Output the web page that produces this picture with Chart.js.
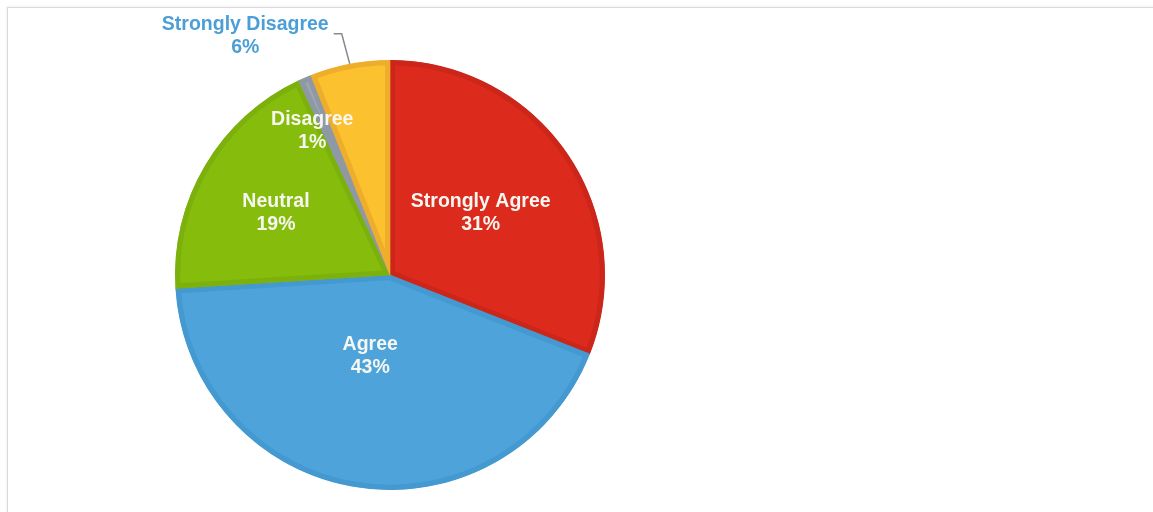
<!DOCTYPE html>
<html>
<head>
<meta charset="utf-8">
<script src="https://cdn.jsdelivr.net/npm/chart.js@4/dist/chart.umd.min.js"></script>
<style>
  html, body { margin: 0; padding: 0; background: #fff; overflow: hidden; }
  #frame {
    position: absolute; left: 7px; top: 7px; width: 1200px; height: 560px;
    border-top: 1px solid #dadada; border-left: 1px solid #dadada;
    box-shadow: -1px -1px 2px rgba(0,0,0,0.05);
  }
  #wrap { position: absolute; left: 0; top: 0; width: 1153px; height: 512px; }
</style>
</head>
<body>
<div id="frame"></div>
<div id="wrap"><canvas id="pieChart"></canvas></div>
<script>
// answers, clockwise from 12 o'clock
const answers = ['Strongly Agree', 'Agree', 'Neutral', 'Disagree', 'Strongly Disagree'];
const percents = [31, 43, 19, 1, 6];

const fills = ['#dc2a1c', '#4da3da', '#86bc0c', '#9ba6b2', '#fcc12f'];
const rims = ['#cc261b', '#4399d0', '#7cb10d', '#8f99a5', '#eeae2b'];

// draws the two-line labels on each slice (no datalabels plugin offline)
const sliceLabels = {
  id: 'sliceLabels',
  afterDatasetsDraw(chart, args, opts) {
    const ctx = chart.ctx;
    const meta = chart.getDatasetMeta(0);
    ctx.save();
    ctx.font = 'bold 19.5px "Liberation Sans", Arial, sans-serif';
    ctx.textBaseline = 'middle';
    meta.data.forEach((arc, i) => {
      const p = arc.getProps(['x', 'y', 'startAngle', 'endAngle', 'outerRadius'], true);
      const mid = (p.startAngle + p.endAngle) / 2;
      const place = opts.place[i];
      const txt = [answers[i], percents[i] + '%'];
      if (place.outside) {
        const ex = p.x + Math.cos(mid) * p.outerRadius;
        const ey = p.y + Math.sin(mid) * p.outerRadius;
        const bx = ex + place.elbow[0], by = ey + place.elbow[1];
        const tx = bx - place.tail;
        ctx.strokeStyle = '#8a8a8a';
        ctx.lineWidth = 1.5;
        ctx.beginPath();
        ctx.moveTo(ex, ey);
        ctx.lineTo(bx, by);
        ctx.lineTo(tx, by);
        ctx.stroke();
        ctx.fillStyle = place.color;
        ctx.textAlign = 'center';
        const w = ctx.measureText(txt[0]).width;
        const cx = tx - 5 - w / 2;
        ctx.fillText(txt[0], cx, by - 9);
        ctx.fillText(txt[1], cx, by + 14);
        return;
      }
      const r = p.outerRadius * place.r;
      const x = p.x + Math.cos(mid) * r + (place.dx || 0);
      const y = p.y + Math.sin(mid) * r + (place.dy || 0);
      ctx.fillStyle = '#f7f7f2';
      ctx.textAlign = 'center';
      ctx.fillText(txt[0], x, y - 11.5);
      ctx.fillText(txt[1], x, y + 11.5);
    });
    ctx.restore();
  }
};

new Chart(document.getElementById('pieChart').getContext('2d'), {
  type: 'pie',
  data: {
    labels: answers,
    datasets: [{
      data: percents,
      backgroundColor: fills,
      borderColor: rims,
      borderWidth: 5,
      borderAlign: 'inner'
    }]
  },
  options: {
    responsive: true,
    maintainAspectRatio: false,
    animation: false,
    events: [],
    layout: { padding: { left: 175, top: 60, right: 548, bottom: 22 } },
    plugins: {
      legend: { display: false },
      tooltip: { enabled: false },
      sliceLabels: {
        place: [
          { r: 0.51 },
          { r: 0.38, dx: -7 },
          { r: 0.6, dx: -3, dy: 4 },
          { r: 0.77, dx: -12, dy: 8 },
          { outside: true, elbow: [-8, -30], tail: 8, color: '#4b9fd6' }
        ]
      }
    }
  },
  plugins: [sliceLabels]
});
</script>
</body>
</html>
